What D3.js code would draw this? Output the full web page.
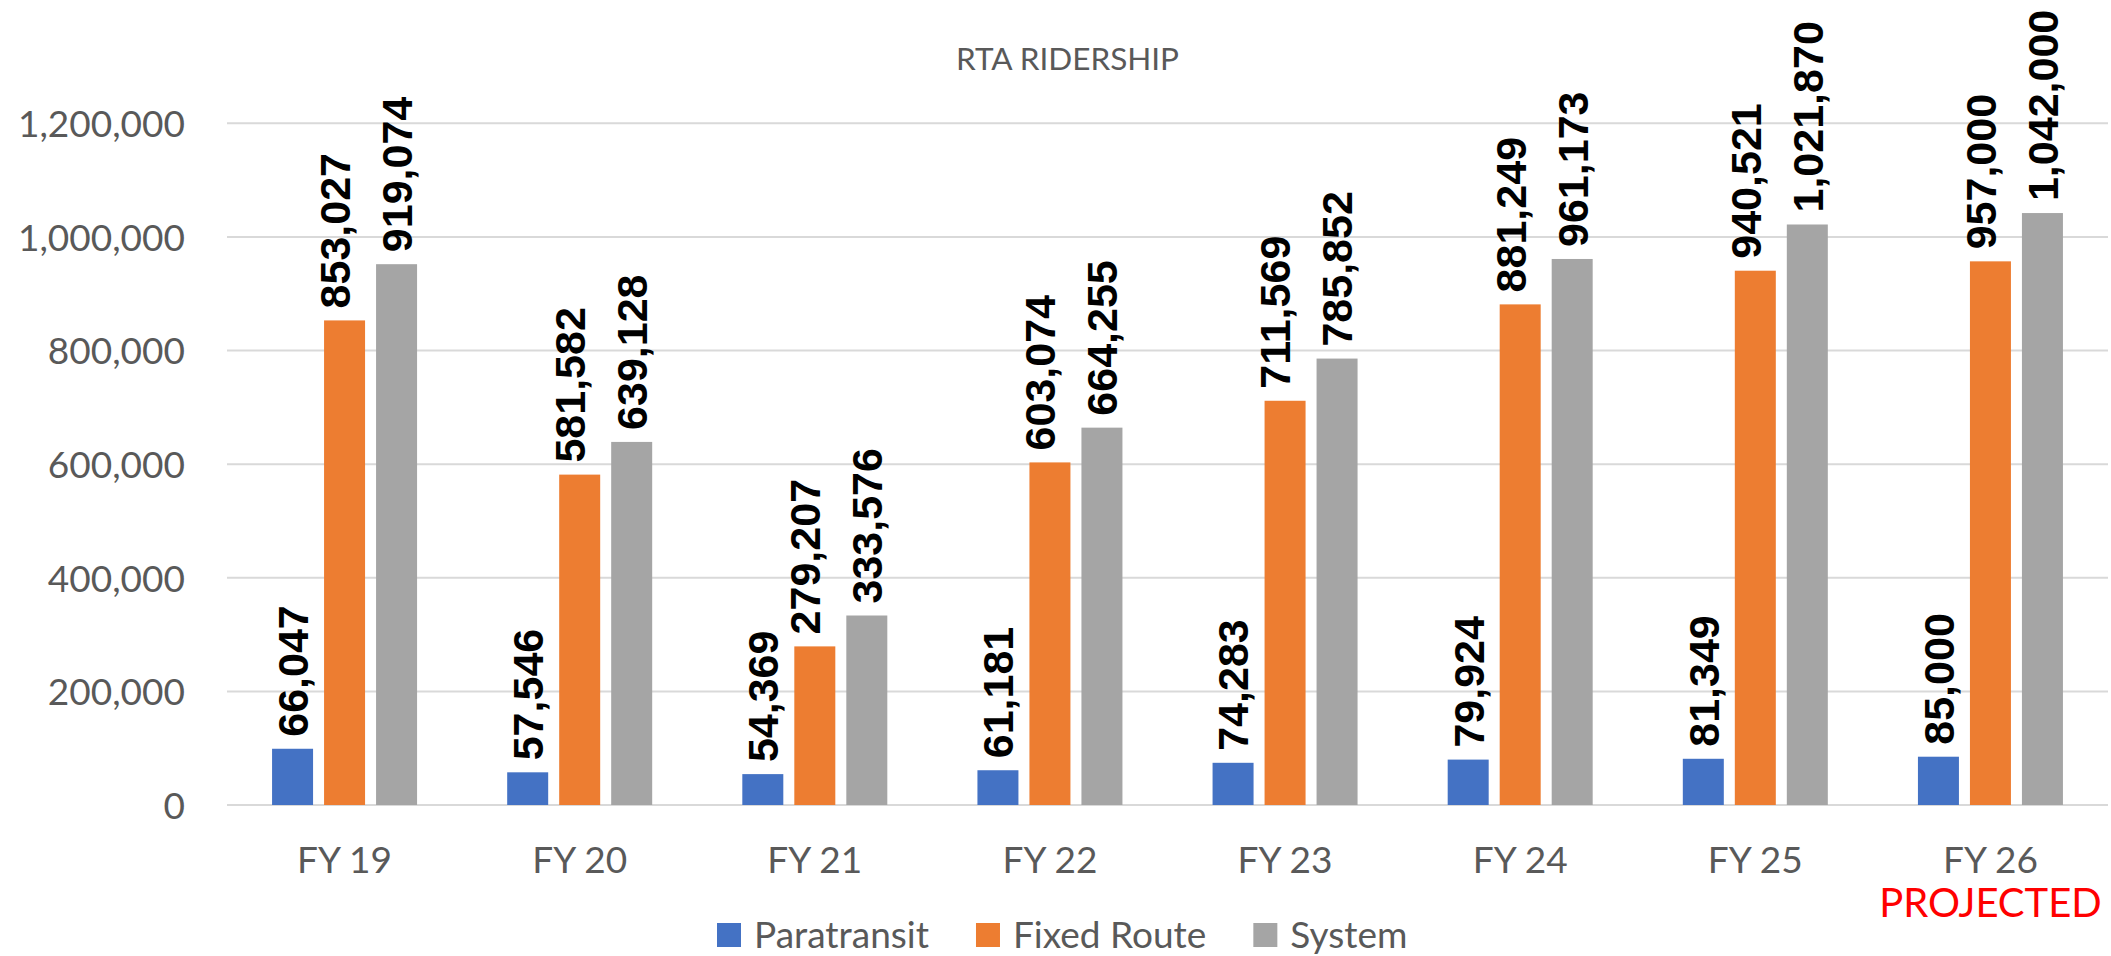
<!DOCTYPE html>
<html>
<head>
<meta charset="utf-8">
<script src="https://cdn.jsdelivr.net/npm/d3@7"></script>
<style>
  html, body { margin: 0; padding: 0; background: #ffffff; }
  svg { display: block; }
</style>
</head>
<body>
<svg id="chart" width="2111" height="956"></svg>
<script>
// ---- data ----
const categories = ["FY 19", "FY 20", "FY 21", "FY 22", "FY 23", "FY 24", "FY 25", "FY 26"];
const seriesNames = ["Paratransit", "Fixed Route", "System"];
// bar heights as drawn
const paratransit = [99000, 57546, 54369, 61181, 74283, 79924, 81349, 85000];
const fixedRoute  = [853027, 581582, 279207, 603074, 711569, 881249, 940521, 957000];
const systemTotal = [952000, 639128, 333576, 664255, 785852, 961173, 1021870, 1042000];
// data label values as printed
const paratransitLabels = [66047, 57546, 54369, 61181, 74283, 79924, 81349, 85000];
const fixedRouteLabels  = [853027, 581582, 279207, 603074, 711569, 881249, 940521, 957000];
const systemLabels      = [919074, 639128, 333576, 664255, 785852, 961173, 1021870, 1042000];
const yTicks = [0, 200000, 400000, 600000, 800000, 1000000, 1200000];
const title = "RTA RIDERSHIP";
const projectedNote = "PROJECTED";
const colors = ["#4472c4", "#ed7d31", "#a5a5a5"];

// ---- layout ----
const svg = d3.select("#chart");
const plotLeft = 227, plotRight = 2108, plotTop = 123.3, plotBottom = 805;
const textColor = "#595959";
const gridColor = "#d9d9d9";

const x0 = d3.scaleBand().domain(categories).range([plotLeft, plotRight]).padding(0);
const groupW = 145;
const x1 = d3.scaleBand().domain(seriesNames)
  .range([-groupW / 2, groupW / 2]).paddingInner(11 / 52).paddingOuter(0);
const y = d3.scaleLinear().domain([0, 1200000]).range([plotBottom, plotTop]);
const color = d3.scaleOrdinal().domain(seriesNames).range(colors);
const fmt = d3.format(",");

// gridlines
svg.append("g").selectAll("line").data(yTicks).join("line")
  .attr("x1", plotLeft).attr("x2", plotRight)
  .attr("y1", d => y(d)).attr("y2", d => y(d))
  .attr("stroke", gridColor).attr("stroke-width", 2);

// y axis labels
const yAxis = d3.axisLeft(y).tickValues(yTicks).tickFormat(fmt).tickSize(0).tickPadding(0);
const yg = svg.append("g").attr("transform", `translate(185,0)`).call(yAxis);
yg.select(".domain").remove();
yg.selectAll("text")
  .attr("font-family", "Lato, 'Open Sans', sans-serif")
  .attr("font-size", 37)
  .attr("fill", textColor)
  .attr("dy", "0.36em");

// x axis labels
const xAxis = d3.axisBottom(x0).tickSize(0).tickPadding(0);
const xg = svg.append("g").attr("transform", `translate(0,${plotBottom})`).call(xAxis);
xg.select(".domain").remove();
xg.selectAll("text")
  .attr("font-family", "Lato, 'Open Sans', sans-serif")
  .attr("font-size", 37)
  .attr("fill", textColor)
  .attr("y", 68).attr("dy", 0);

// projected note under last category
svg.append("text")
  .attr("x", x0(categories[categories.length - 1]) + x0.bandwidth() / 2)
  .attr("y", 916.7)
  .attr("text-anchor", "middle")
  .attr("font-family", "Lato, 'Open Sans', sans-serif")
  .attr("font-size", 40)
  .attr("fill", "#ff0000")
  .text(projectedNote);

// bars
const seriesVals = [paratransit, fixedRoute, systemTotal];
const seriesLabels = [paratransitLabels, fixedRouteLabels, systemLabels];
const labelDx = [0, -10, 0];
const rows = [];
categories.forEach((c, i) => {
  seriesNames.forEach((s, j) => {
    rows.push({ cat: c, series: s, j, value: seriesVals[j][i], label: seriesLabels[j][i] });
  });
});

const groups = svg.append("g").selectAll("g").data(categories).join("g")
  .attr("transform", d => `translate(${x0(d) + x0.bandwidth() / 2},0)`);

groups.selectAll("rect").data(c => rows.filter(r => r.cat === c)).join("rect")
  .attr("x", d => x1(d.series))
  .attr("width", x1.bandwidth())
  .attr("y", d => y(d.value))
  .attr("height", d => y(0) - y(d.value))
  .attr("fill", d => color(d.series));

// data labels (rotated)
const labelFont = 43;
groups.selectAll("text.lbl").data(c => rows.filter(r => r.cat === c)).join("text")
  .attr("class", "lbl")
  .attr("transform", d => {
    const cx = x1(d.series) + x1.bandwidth() / 2 + labelDx[d.j] + 0.358 * labelFont;
    const cy = y(d.value) - 12;
    return `translate(${cx},${cy}) rotate(-90)`;
  })
  .attr("text-anchor", "start")
  .attr("font-family", "'Liberation Sans', Arial, sans-serif")
  .attr("font-weight", "bold")
  .attr("font-size", labelFont)
  .attr("fill", "#000000")
  .text(d => fmt(d.label));

// title
svg.append("text")
  .attr("x", 1067.5).attr("y", 70)
  .attr("text-anchor", "middle")
  .attr("font-family", "Lato, 'Open Sans', sans-serif")
  .attr("font-size", 31.5)
  .attr("fill", textColor)
  .text(title);

// legend
const legend = svg.append("g");
let lx = 717;
seriesNames.forEach((s, j) => {
  legend.append("rect")
    .attr("x", lx).attr("y", 923).attr("width", 24).attr("height", 24)
    .attr("fill", color(s));
  const t = legend.append("text")
    .attr("x", lx + 37).attr("y", 947.7)
    .attr("font-family", "Lato, 'Open Sans', sans-serif")
    .attr("font-size", 37)
    .attr("fill", textColor)
    .text(s);
  lx = lx + 37 + t.node().getComputedTextLength() + 47;
});
</script>
</body>
</html>
